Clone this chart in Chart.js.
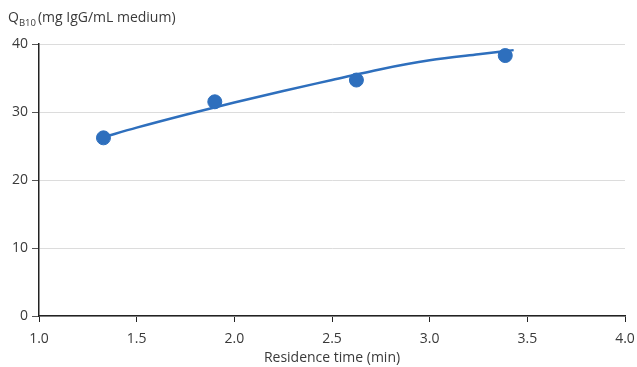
<!DOCTYPE html>
<html>
<head>
<meta charset="utf-8">
<script src="https://cdn.jsdelivr.net/npm/chart.js@4/dist/chart.umd.min.js"></script>
<style>
  html, body { margin: 0; padding: 0; background: #fff; }
  #wrap { width: 637px; height: 367px; position: relative; }
</style>
</head>
<body>
<div id="wrap"><canvas id="c" width="637" height="367"></canvas></div>
<script>
// Measured binding capacity at 10% breakthrough vs residence time
const residenceTimes = [1.33, 1.90, 2.625, 3.387];
const capacityQB10 = [26.2, 31.5, 34.7, 38.3];

// Fitted trend curve
const fitTimes = [1.33, 1.5, 1.75, 2.0, 2.25, 2.5, 2.75, 3.0, 3.25, 3.43];
const fitCapacity = [26.3, 27.7, 29.6, 31.4, 33.1, 34.7, 36.3, 37.6, 38.5, 39.1];

const xTicks = [1.0, 1.5, 2.0, 2.5, 3.0, 3.5, 4.0];
const yTicks = [0, 10, 20, 30, 40];

const BLUE = '#2e6fbd';
const TEXT = '#3a3a3a';
const FONT = "'Open Sans', 'DejaVu Sans', sans-serif";

const axisTitle = {
  id: 'axisTitle',
  afterDraw(chart) {
    const ctx = chart.ctx;
    ctx.save();
    ctx.fillStyle = TEXT;
    ctx.textBaseline = 'alphabetic';
    let x = 8, y = 22;
    ctx.font = '14px ' + FONT;
    ctx.fillText('Q', x, y);
    x += ctx.measureText('Q').width;
    ctx.font = '9.5px ' + FONT;
    ctx.fillText('B10', x, y + 4);
    x += ctx.measureText('B10').width + 2;
    ctx.font = '14px ' + FONT;
    ctx.fillText('(mg IgG/mL medium)', x, y);
    ctx.restore();
  }
};

new Chart(document.getElementById('c'), {
  type: 'scatter',
  data: {
    datasets: [
      {
        label: 'Fit',
        data: fitTimes.map((t, i) => ({ x: t, y: fitCapacity[i] })),
        showLine: true,
        borderColor: BLUE,
        borderWidth: 2.5,
        pointRadius: 0,
        cubicInterpolationMode: 'monotone',
        order: 2
      },
      {
        label: 'Measured',
        data: residenceTimes.map((t, i) => ({ x: t, y: capacityQB10[i] })),
        backgroundColor: BLUE,
        borderColor: BLUE,
        pointRadius: 7,
        pointHoverRadius: 7,
        order: 1
      }
    ]
  },
  options: {
    responsive: false,
    animation: false,
    devicePixelRatio: 1,
    layout: { padding: { left: 0, right: 0, top: 44, bottom: 0 } },
    plugins: { legend: { display: false }, tooltip: { enabled: false } },
    scales: {
      x: {
        type: 'linear',
        min: 1, max: 4,
        afterBuildTicks(s) { s.ticks = xTicks.map(v => ({ value: v })); },
        afterFit(s) { s.height = 51; s.paddingLeft = 0; s.paddingRight = 12; },
        border: { display: true, color: '#222', width: 1.5 },
        grid: { drawOnChartArea: false, drawTicks: true, tickLength: 6, tickColor: '#222' },
        ticks: {
          color: TEXT, font: { family: FONT, size: 14 }, padding: 9,
          callback: v => v.toFixed(1)
        },
        title: {
          display: true, text: 'Residence time (min)', color: TEXT,
          font: { family: FONT, size: 14 }, padding: { top: 0, bottom: 1 }
        }
      },
      y: {
        min: 0, max: 40,
        afterBuildTicks(s) { s.ticks = yTicks.map(v => ({ value: v })); },
        afterFit(s) { s.width = 39; },
        border: { display: true, color: '#222', width: 1.5 },
        grid: { color: '#dcdcdc', lineWidth: 1, drawTicks: true, tickLength: 7, tickColor: '#555' },
        ticks: { color: TEXT, font: { family: FONT, size: 14 }, padding: 4 }
      }
    }
  },
  plugins: [axisTitle]
});
</script>
</body>
</html>
